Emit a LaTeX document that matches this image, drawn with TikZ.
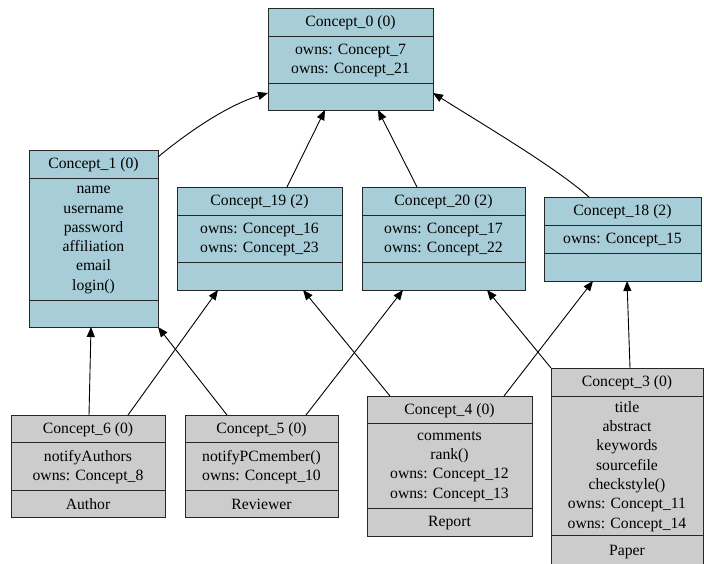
\documentclass[tikz,border=0pt]{standalone}
\usepackage{fontspec}
\setmainfont{Liberation Serif}
\usetikzlibrary{arrows.meta,calc}
\definecolor{cblue}{RGB}{167,205,216}
\definecolor{cgray}{RGB}{204,204,204}
\tikzset{
  clsbox/.style={draw=black!85, line width=1pt, inner sep=0pt, outer sep=0pt, anchor=north west},
  clsline/.style={draw=black!85, line width=1pt},
  txt/.style={font=\fontsize{15.7}{19.3}\selectfont, align=center, inner sep=0pt},
  edge/.style={draw=black, line width=0.9pt, -{Triangle[length=10pt,width=8pt]}}
}
\newcommand\umlbox[8]{%
  \node[clsbox, fill=#8, minimum width=#4pt, minimum height={#5pt+#6pt+#7pt}] (#1) at (#2,#3) {};
  \draw[clsline] ($(#1.north west)+(0,#5)$) -- ++(#4,0);
  \draw[clsline] ($(#1.north west)+(0,#5+#6)$) -- ++(#4,0);
  \coordinate (#1h) at ($(#1.north)+(0,#5/2+1)$);
  \coordinate (#1a) at ($(#1.north)+(0,#5+#6/2+1)$);
  \coordinate (#1b) at ($(#1.north)+(0,#5+#6+#7/2+1)$);
}
\begin{document}
\begin{tikzpicture}[x=1pt,y=-1pt]
\useasboundingbox (0,0) rectangle (704,563);
\fill[white] (0,0) rectangle (704,563);

% blue concepts
\umlbox{c0}{268}{8}{165}{28}{47}{27}{cblue}
\node[txt] (c0t) at (c0h) {Concept\_0 (0)};
\node[txt] (c0s) at (c0a) {owns: Concept\_7\\owns: Concept\_21};

\umlbox{c1}{29}{150}{129}{28}{122}{27}{cblue}
\node[txt] (c1t) at (c1h) {Concept\_1 (0)};
\node[txt] (c1s) at (c1a) {name\\username\\password\\affiliation\\email\\login()};

\umlbox{c19}{177}{187}{165}{28}{47}{28}{cblue}
\node[txt] (c19t) at (c19h) {Concept\_19 (2)};
\node[txt] (c19s) at (c19a) {owns: Concept\_16\\owns: Concept\_23};

\umlbox{c20}{362}{187}{163}{28}{47}{28}{cblue}
\node[txt] (c20t) at (c20h) {Concept\_20 (2)};
\node[txt] (c20s) at (c20a) {owns: Concept\_17\\owns: Concept\_22};

\umlbox{c18}{544}{197}{157}{28}{28}{28}{cblue}
\node[txt] (c18t) at (c18h) {Concept\_18 (2)};
\node[txt] (c18s) at (c18a) {owns: Concept\_15};

% gray concepts
\umlbox{c6}{11}{415}{154}{27}{48}{27}{cgray}
\node[txt] (c6t) at (c6h) {Concept\_6 (0)};
\node[txt] (c6s) at (c6a) {notifyAuthors\\owns: Concept\_8};
\node[txt] (c6n) at (c6b) {Author};

\umlbox{c5}{185}{415}{153}{27}{48}{27}{cgray}
\node[txt] (c5t) at (c5h) {Concept\_5 (0)};
\node[txt] (c5s) at (c5a) {notifyPCmember()\\owns: Concept\_10};
\node[txt] (c5n) at (c5b) {Reviewer};

\umlbox{c4}{367}{396}{165}{27}{85}{28}{cgray}
\node[txt] (c4t) at (c4h) {Concept\_4 (0)};
\node[txt] (c4s) at (c4a) {comments\\rank()\\owns: Concept\_12\\owns: Concept\_13};
\node[txt] (c4n) at (c4b) {Report};

\umlbox{c3}{551}{368}{152}{28}{139}{32}{cgray}
\node[txt] (c3t) at (c3h) {Concept\_3 (0)};
\node[txt] (c3s) at (c3a) {title\\abstract\\keywords\\sourcefile\\checkstyle()\\owns: Concept\_11\\owns: Concept\_14};
\node[txt] (c3n) at (c3b) {Paper};

% connectors
\draw[edge] ($(c1.north east)+(0,7)$) .. controls +(30,-25) and +(-40,12) .. ($(c0.south west)+(0,-17)$);
\draw[edge] ($(c19.north west)+(110,0)$) -- ($(c0.south west)+(57,0)$);
\draw[edge] ($(c20.north west)+(55,0)$) -- ($(c0.south west)+(110,0)$);
\draw[edge] ($(c18.north west)+(45,0)$) .. controls +(-34,-30) and +(54,34) .. ($(c0.south east)+(0,-17)$);

\draw[edge] ($(c6.north west)+(78,0)$) -- ($(c1.south west)+(62,0)$);
\draw[edge] ($(c6.north west)+(117,0)$) -- ($(c19.south west)+(41,0)$);
\draw[edge] ($(c5.north west)+(42,0)$) -- (c1.south east);
\draw[edge] ($(c5.north west)+(121,0)$) -- ($(c20.south west)+(41,0)$);
\draw[edge] ($(c4.north west)+(23,0)$) -- ($(c19.south west)+(126,0)$);
\draw[edge] ($(c4.north west)+(137,0)$) -- ($(c18.south west)+(49,0)$);
\draw[edge] (c3.north west) -- ($(c20.south west)+(125,0)$);
\draw[edge] ($(c3.north west)+(79,0)$) -- ($(c18.south west)+(83,0)$);
\end{tikzpicture}
\end{document}
